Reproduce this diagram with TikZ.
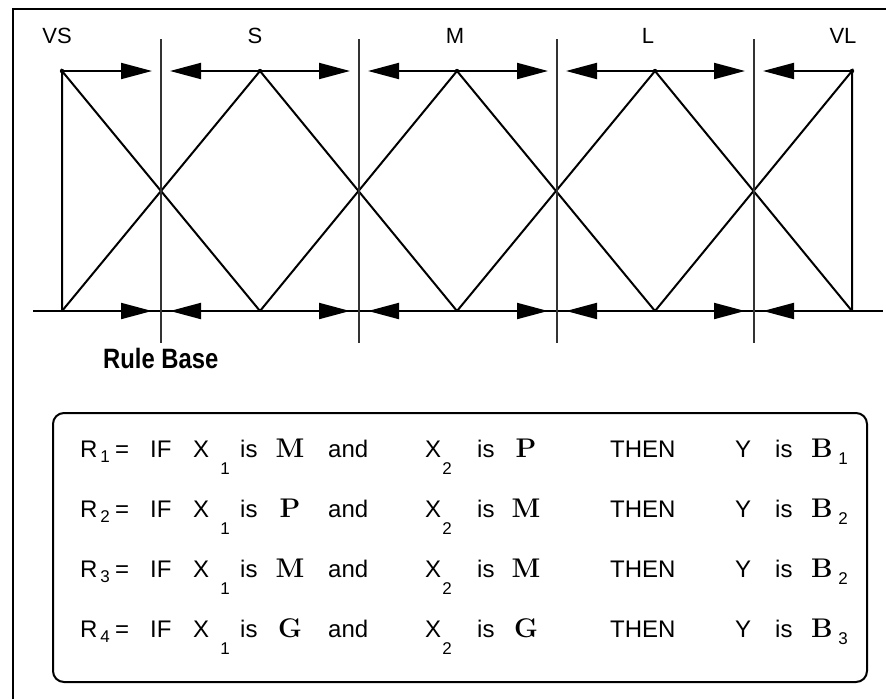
\documentclass[tikz,border=0pt]{standalone}
\usepackage{fontspec}
\usetikzlibrary{arrows.meta}
\newfontfamily\labelfont{Liberation Sans}
\newfontfamily\rulebasefont{Liberation Sans}[FakeStretch=0.85]

% one line of the rule base: name, baseline, rule index, first set, second set, output index
\newcommand{\rulerow}[6]{%
    \node[rowtext] (#1r) at (80,#2) {R};
    \node[subtext] (#1rs) at (105,#2+5) {#3};
    \node[rowtext] (#1eq) at (115,#2) {=};
    \node[rowtext] (#1if) at (150,#2) {IF};
    \node[rowtext] (#1xa) at (193,#2) {X};
    \node[subtext] (#1xas) at (225,#2+17) {1};
    \node[rowtext] (#1isa) at (240,#2) {is};
    \node[settext] (#1seta) at (290,#2) {#4};
    \node[rowtext] (#1and) at (328,#2) {and};
    \node[rowtext] (#1xb) at (425,#2) {X};
    \node[subtext] (#1xbs) at (447,#2+17) {2};
    \node[rowtext] (#1isb) at (477,#2) {is};
    \node[settext] (#1setb) at (526,#2) {#5};
    \node[rowtext] (#1then) at (610,#2) {THEN};
    \node[rowtext] (#1y) at (735,#2) {Y};
    \node[rowtext] (#1isc) at (775,#2) {is};
    \node[settext] (#1b) at (822,#2) {B};
    \node[subtext] (#1bs) at (843,#2+7) {#6};
}

\begin{document}
\begin{tikzpicture}[
    x=1pt, y=-1pt,
    setlabel/.style={
        font=\labelfont\fontsize{22}{22}\selectfont,
        anchor=base,
        inner sep=0pt
    },
    memberline/.style={
        line width=2pt
    },
    boundary/.style={
        line width=1.6pt,
        black!80
    },
    spanarrow/.style={
        -{Triangle[length=31pt,width=16pt]},
        line width=2pt,
        shorten >=9pt
    },
    rowtext/.style={
        font=\labelfont\fontsize{24}{24}\selectfont,
        anchor=base west,
        inner sep=0pt
    },
    subtext/.style={
        font=\labelfont\fontsize{17}{17}\selectfont,
        anchor=base,
        inner sep=0pt
    },
    settext/.style={
        font=\bfseries\fontsize{27}{27}\selectfont,
        anchor=base,
        inner sep=0pt
    }
]
    \useasboundingbox (0,0) rectangle (886,699);

    % frame
    \draw[line width=2pt] (13,699) -- (13,9) -- (886,9);

    % peaks and feet of the sets
    \coordinate (p1) at (62,71);
    \coordinate (p2) at (260,71);
    \coordinate (p3) at (457,71);
    \coordinate (p4) at (655,71);
    \coordinate (p5) at (852,71);
    \coordinate (q1) at (62,311);
    \coordinate (q2) at (260,311);
    \coordinate (q3) at (457,311);
    \coordinate (q4) at (655,311);
    \coordinate (q5) at (852,311);

    % boundaries between the sets
    \coordinate (vt1) at (161,39);
    \coordinate (vt2) at (359,39);
    \coordinate (vt3) at (557,39);
    \coordinate (vt4) at (754,39);
    \coordinate (vb1) at (161,343);
    \coordinate (vb2) at (359,343);
    \coordinate (vb3) at (557,343);
    \coordinate (vb4) at (754,343);
    \coordinate (c1) at (161,71);
    \coordinate (c2) at (359,71);
    \coordinate (c3) at (557,71);
    \coordinate (c4) at (754,71);
    \coordinate (d1) at (161,311);
    \coordinate (d2) at (359,311);
    \coordinate (d3) at (557,311);
    \coordinate (d4) at (754,311);

    \node[setlabel] (vsLabel) at (57,43) {VS};
    \node[setlabel] (sLabel) at (255,43) {S};
    \node[setlabel] (mLabel) at (455,43) {M};
    \node[setlabel] (lLabel) at (648,43) {L};
    \node[setlabel] (vlLabel) at (843,43) {VL};

    % membership functions
    \draw[memberline] (q1) -- (p1) -- (q2);
    \draw[memberline] (q1) -- (p2) -- (q3);
    \draw[memberline] (q2) -- (p3) -- (q4);
    \draw[memberline] (q3) -- (p4) -- (q5);
    \draw[memberline] (q4) -- (p5) -- (q5);

    \coordinate (axisStart) at (33,311);
    \coordinate (axisEnd) at (883,311);
    \draw[memberline] (axisStart) -- (axisEnd);

    \draw[boundary] (vt1) -- (vb1);
    \draw[boundary] (vt2) -- (vb2);
    \draw[boundary] (vt3) -- (vb3);
    \draw[boundary] (vt4) -- (vb4);

    % spans of the sets, top
    \draw[spanarrow] (p1) -- (c1);
    \draw[spanarrow] (p2) -- (c1);
    \draw[spanarrow] (p2) -- (c2);
    \draw[spanarrow] (p3) -- (c2);
    \draw[spanarrow] (p3) -- (c3);
    \draw[spanarrow] (p4) -- (c3);
    \draw[spanarrow] (p4) -- (c4);
    \draw[spanarrow] (p5) -- (c4);

    % spans of the sets, bottom
    \draw[spanarrow] (q1) -- (d1);
    \draw[spanarrow] (q2) -- (d1);
    \draw[spanarrow] (q2) -- (d2);
    \draw[spanarrow] (q3) -- (d2);
    \draw[spanarrow] (q3) -- (d3);
    \draw[spanarrow] (q4) -- (d3);
    \draw[spanarrow] (q4) -- (d4);
    \draw[spanarrow] (q5) -- (d4);

    \fill (p1) circle (2.2pt);
    \fill (p2) circle (2.2pt);
    \fill (p3) circle (2.2pt);
    \fill (p4) circle (2.2pt);
    \fill (p5) circle (2.2pt);

    % rule base
    \node[anchor=base west, inner sep=0pt, font=\rulebasefont\bfseries\fontsize{28}{28}\selectfont]
        (ruleBaseLabel) at (103,368) {Rule Base};
    \draw[line width=2pt, rounded corners=11pt] (53,413) rectangle (867,682);

    \rulerow{one}{457}{1}{M}{P}{1}
    \rulerow{two}{517}{2}{P}{M}{2}
    \rulerow{three}{577}{3}{M}{M}{2}
    \rulerow{four}{637}{4}{G}{G}{3}
\end{tikzpicture}
\end{document}
